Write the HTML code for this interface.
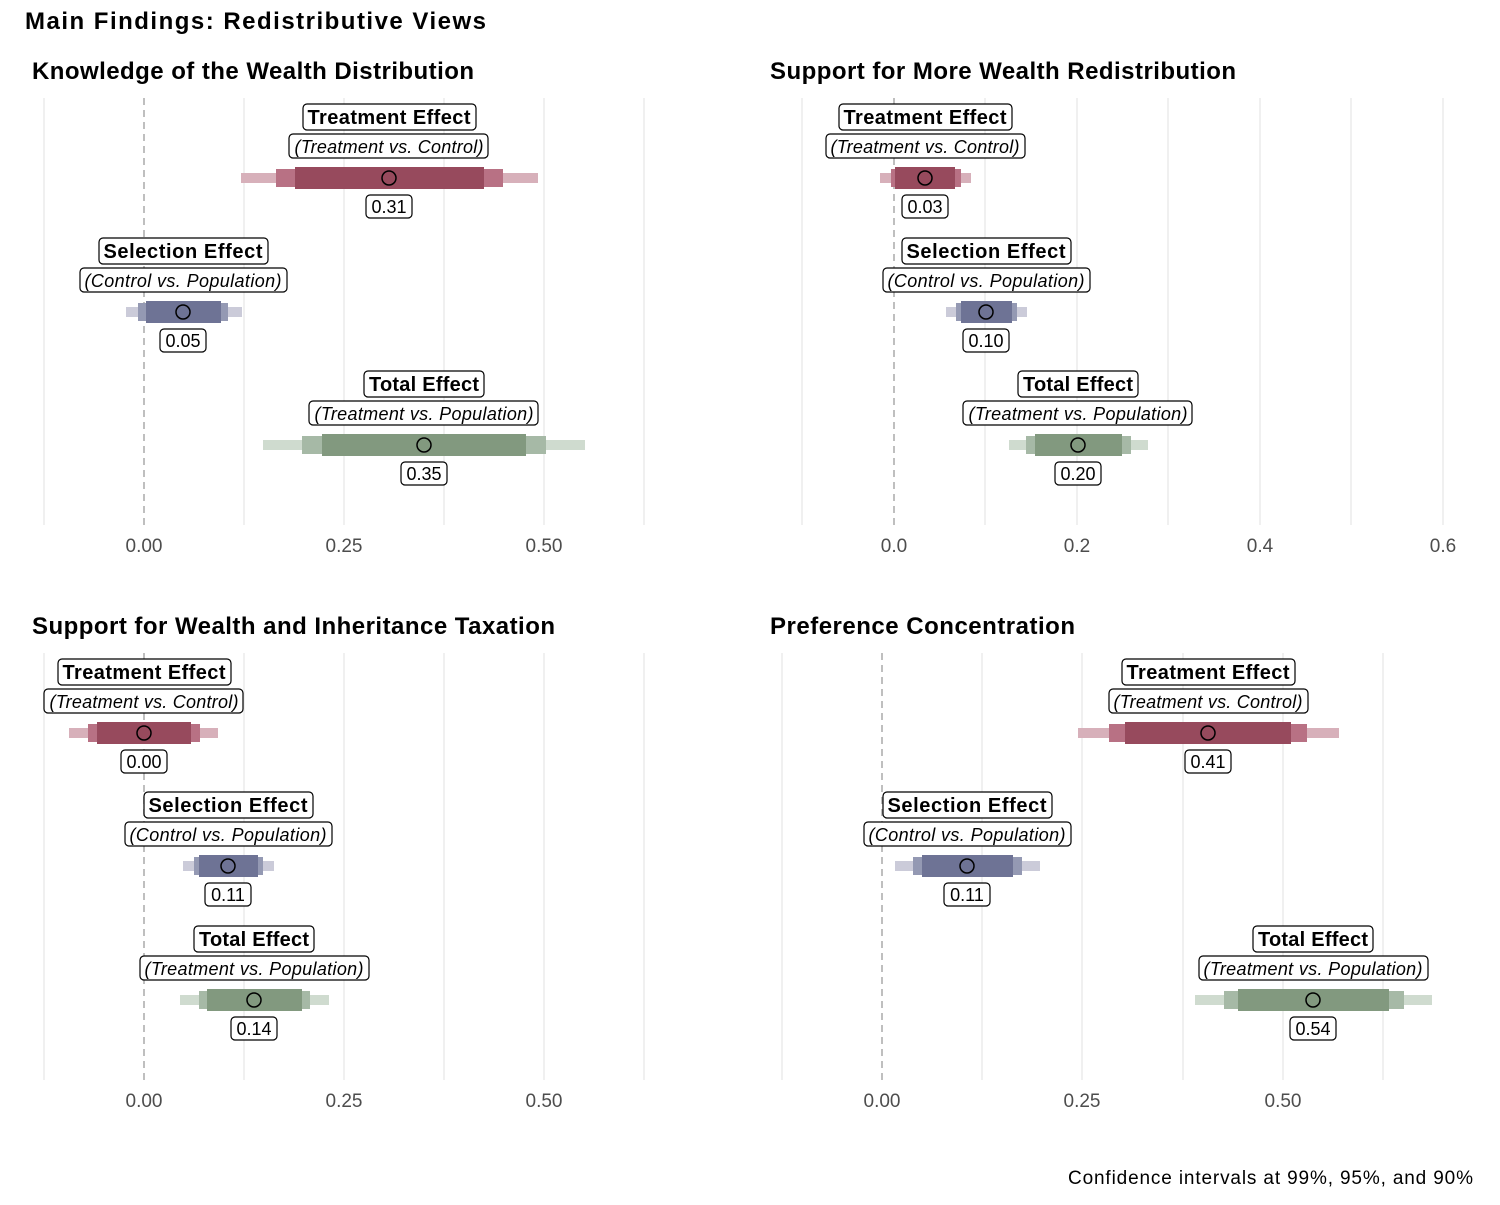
<!DOCTYPE html>
<html><head><meta charset="utf-8"><style>
body{margin:0;background:#fff}
svg text{font-family:"Liberation Sans","DejaVu Sans",sans-serif}
.t{font-weight:bold;font-size:20px;text-anchor:middle}
.i{font-style:italic;font-size:18px;text-anchor:middle}
.v{font-size:18px;text-anchor:middle}
.b{fill:#fff;stroke:#000;stroke-width:1.2}
.ax{font-size:19px;fill:#4d4d4d;text-anchor:middle}
.pt{font-weight:bold;font-size:24px}
.g{stroke:#ebebeb;stroke-width:1.5}
.z{stroke:#aaa;stroke-width:1.5;stroke-dasharray:7,5}
</style></head><body>
<svg width="1500" height="1200" xmlns="http://www.w3.org/2000/svg">
<text x="25" y="29" class="pt" textLength="461">Main Findings: Redistributive Views</text>
<text x="32" y="79" class="pt" textLength="442">Knowledge of the Wealth Distribution</text>
<text x="770" y="79" class="pt" textLength="466">Support for More Wealth Redistribution</text>
<text x="32" y="634" class="pt" textLength="523">Support for Wealth and Inheritance Taxation</text>
<text x="770" y="634" class="pt" textLength="305">Preference Concentration</text>
<text x="1473" y="1184" style="font-size:19px;text-anchor:end" textLength="405">Confidence intervals at 99%, 95%, and 90%</text>

<!-- grids -->
<g>
<line class="g" x1="44" y1="98" x2="44" y2="525"/><line class="g" x1="244" y1="98" x2="244" y2="525"/><line class="g" x1="344" y1="98" x2="344" y2="525"/><line class="g" x1="444" y1="98" x2="444" y2="525"/><line class="g" x1="544" y1="98" x2="544" y2="525"/><line class="g" x1="644" y1="98" x2="644" y2="525"/>
<line class="z" x1="144" y1="98" x2="144" y2="525"/>
<text class="ax" x="144" y="552">0.00</text><text class="ax" x="344" y="552">0.25</text><text class="ax" x="544" y="552">0.50</text>

<line class="g" x1="802" y1="98" x2="802" y2="525"/><line class="g" x1="985" y1="98" x2="985" y2="525"/><line class="g" x1="1077" y1="98" x2="1077" y2="525"/><line class="g" x1="1168" y1="98" x2="1168" y2="525"/><line class="g" x1="1260" y1="98" x2="1260" y2="525"/><line class="g" x1="1351" y1="98" x2="1351" y2="525"/><line class="g" x1="1443" y1="98" x2="1443" y2="525"/>
<line class="z" x1="894" y1="98" x2="894" y2="525"/>
<text class="ax" x="894" y="552">0.0</text><text class="ax" x="1077" y="552">0.2</text><text class="ax" x="1260" y="552">0.4</text><text class="ax" x="1443" y="552">0.6</text>

<line class="g" x1="44" y1="653" x2="44" y2="1080"/><line class="g" x1="244" y1="653" x2="244" y2="1080"/><line class="g" x1="344" y1="653" x2="344" y2="1080"/><line class="g" x1="444" y1="653" x2="444" y2="1080"/><line class="g" x1="544" y1="653" x2="544" y2="1080"/><line class="g" x1="644" y1="653" x2="644" y2="1080"/>
<line class="z" x1="144" y1="653" x2="144" y2="1080"/>
<text class="ax" x="144" y="1107">0.00</text><text class="ax" x="344" y="1107">0.25</text><text class="ax" x="544" y="1107">0.50</text>

<line class="g" x1="782" y1="653" x2="782" y2="1080"/><line class="g" x1="982" y1="653" x2="982" y2="1080"/><line class="g" x1="1082" y1="653" x2="1082" y2="1080"/><line class="g" x1="1183" y1="653" x2="1183" y2="1080"/><line class="g" x1="1283" y1="653" x2="1283" y2="1080"/><line class="g" x1="1383" y1="653" x2="1383" y2="1080"/>
<line class="z" x1="882" y1="653" x2="882" y2="1080"/>
<text class="ax" x="882" y="1107">0.00</text><text class="ax" x="1082" y="1107">0.25</text><text class="ax" x="1283" y="1107">0.50</text>
</g>

<!-- PANEL 1 -->
<g>
<rect x="241" y="173" width="297" height="10" fill="#d7b0ba"/><rect x="276" y="169" width="227" height="18" fill="#b87184"/><rect x="295" y="167" width="189" height="22" fill="#974a5d"/><circle cx="389" cy="178" r="7" fill="#974a5d" stroke="#000" stroke-width="1.5"/>
<rect class="b" x="303" y="104" width="173" height="26" rx="4"/><text class="t" x="389" y="124" textLength="163">Treatment Effect</text>
<rect class="b" x="289" y="134" width="199" height="24" rx="4"/><text class="i" x="389" y="153" textLength="189">(Treatment vs. Control)</text>
<rect class="b" x="366" y="195" width="46" height="23" rx="4"/><text class="v" x="389" y="213">0.31</text>

<rect x="126" y="307" width="116" height="10" fill="#cbcbd9"/><rect x="138" y="303" width="90" height="18" fill="#9499b3"/><rect x="146" y="301" width="75" height="22" fill="#6e7395"/><circle cx="183" cy="312" r="7" fill="#6e7395" stroke="#000" stroke-width="1.5"/>
<rect class="b" x="99" y="238" width="169" height="26" rx="4"/><text class="t" x="183" y="258" textLength="159">Selection Effect</text>
<rect class="b" x="80" y="268" width="207" height="24" rx="4"/><text class="i" x="183" y="287" textLength="197">(Control vs. Population)</text>
<rect class="b" x="160" y="329" width="46" height="23" rx="4"/><text class="v" x="183" y="347">0.05</text>

<rect x="263" y="440" width="322" height="10" fill="#cfdbcf"/><rect x="302" y="436" width="244" height="18" fill="#a6b9a6"/><rect x="322" y="434" width="204" height="22" fill="#82997f"/><circle cx="424" cy="445" r="7" fill="#82997f" stroke="#000" stroke-width="1.5"/>
<rect class="b" x="364" y="371" width="120" height="26" rx="4"/><text class="t" x="424" y="391" textLength="110">Total Effect</text>
<rect class="b" x="309" y="401" width="229" height="24" rx="4"/><text class="i" x="424" y="420" textLength="219">(Treatment vs. Population)</text>
<rect class="b" x="401" y="462" width="46" height="23" rx="4"/><text class="v" x="424" y="480">0.35</text>
</g>

<!-- PANEL 2 -->
<g>
<rect x="880" y="173" width="91" height="10" fill="#d7b0ba"/><rect x="891" y="169" width="70" height="18" fill="#b87184"/><rect x="895" y="167" width="60" height="22" fill="#974a5d"/><circle cx="925" cy="178" r="7" fill="#974a5d" stroke="#000" stroke-width="1.5"/>
<rect class="b" x="839" y="104" width="173" height="26" rx="4"/><text class="t" x="925" y="124" textLength="163">Treatment Effect</text>
<rect class="b" x="826" y="134" width="199" height="24" rx="4"/><text class="i" x="925" y="153" textLength="189">(Treatment vs. Control)</text>
<rect class="b" x="902" y="195" width="46" height="23" rx="4"/><text class="v" x="925" y="213">0.03</text>

<rect x="946" y="307" width="81" height="10" fill="#cbcbd9"/><rect x="956" y="303" width="61" height="18" fill="#9499b3"/><rect x="961" y="301" width="51" height="22" fill="#6e7395"/><circle cx="986" cy="312" r="7" fill="#6e7395" stroke="#000" stroke-width="1.5"/>
<rect class="b" x="902" y="238" width="169" height="26" rx="4"/><text class="t" x="986" y="258" textLength="159">Selection Effect</text>
<rect class="b" x="883" y="268" width="207" height="24" rx="4"/><text class="i" x="986" y="287" textLength="197">(Control vs. Population)</text>
<rect class="b" x="963" y="329" width="46" height="23" rx="4"/><text class="v" x="986" y="347">0.10</text>

<rect x="1009" y="440" width="139" height="10" fill="#cfdbcf"/><rect x="1026" y="436" width="105" height="18" fill="#a6b9a6"/><rect x="1035" y="434" width="87" height="22" fill="#82997f"/><circle cx="1078" cy="445" r="7" fill="#82997f" stroke="#000" stroke-width="1.5"/>
<rect class="b" x="1018" y="371" width="120" height="26" rx="4"/><text class="t" x="1078" y="391" textLength="110">Total Effect</text>
<rect class="b" x="963" y="401" width="229" height="24" rx="4"/><text class="i" x="1078" y="420" textLength="219">(Treatment vs. Population)</text>
<rect class="b" x="1055" y="462" width="46" height="23" rx="4"/><text class="v" x="1078" y="480">0.20</text>
</g>

<!-- PANEL 3 -->
<g>
<rect x="69" y="728" width="149" height="10" fill="#d7b0ba"/><rect x="88" y="724" width="112" height="18" fill="#b87184"/><rect x="97" y="722" width="94" height="22" fill="#974a5d"/><circle cx="144" cy="733" r="7" fill="#974a5d" stroke="#000" stroke-width="1.5"/>
<rect class="b" x="58" y="659" width="173" height="26" rx="4"/><text class="t" x="144" y="679" textLength="163">Treatment Effect</text>
<rect class="b" x="44" y="689" width="199" height="24" rx="4"/><text class="i" x="144" y="708" textLength="189">(Treatment vs. Control)</text>
<rect class="b" x="121" y="750" width="46" height="23" rx="4"/><text class="v" x="144" y="768">0.00</text>

<rect x="183" y="861" width="91" height="10" fill="#cbcbd9"/><rect x="194" y="857" width="69" height="18" fill="#9499b3"/><rect x="199" y="855" width="59" height="22" fill="#6e7395"/><circle cx="228" cy="866" r="7" fill="#6e7395" stroke="#000" stroke-width="1.5"/>
<rect class="b" x="144" y="792" width="169" height="26" rx="4"/><text class="t" x="228" y="812" textLength="159">Selection Effect</text>
<rect class="b" x="125" y="822" width="207" height="24" rx="4"/><text class="i" x="228" y="841" textLength="197">(Control vs. Population)</text>
<rect class="b" x="205" y="883" width="46" height="23" rx="4"/><text class="v" x="228" y="901">0.11</text>

<rect x="180" y="995" width="149" height="10" fill="#cfdbcf"/><rect x="199" y="991" width="111" height="18" fill="#a6b9a6"/><rect x="207" y="989" width="95" height="22" fill="#82997f"/><circle cx="254" cy="1000" r="7" fill="#82997f" stroke="#000" stroke-width="1.5"/>
<rect class="b" x="194" y="926" width="120" height="26" rx="4"/><text class="t" x="254" y="946" textLength="110">Total Effect</text>
<rect class="b" x="140" y="956" width="229" height="24" rx="4"/><text class="i" x="254" y="975" textLength="219">(Treatment vs. Population)</text>
<rect class="b" x="231" y="1017" width="46" height="23" rx="4"/><text class="v" x="254" y="1035">0.14</text>
</g>

<!-- PANEL 4 -->
<g>
<rect x="1078" y="728" width="261" height="10" fill="#d7b0ba"/><rect x="1109" y="724" width="198" height="18" fill="#b87184"/><rect x="1125" y="722" width="166" height="22" fill="#974a5d"/><circle cx="1208" cy="733" r="7" fill="#974a5d" stroke="#000" stroke-width="1.5"/>
<rect class="b" x="1122" y="659" width="173" height="26" rx="4"/><text class="t" x="1208" y="679" textLength="163">Treatment Effect</text>
<rect class="b" x="1109" y="689" width="199" height="24" rx="4"/><text class="i" x="1208" y="708" textLength="189">(Treatment vs. Control)</text>
<rect class="b" x="1185" y="750" width="46" height="23" rx="4"/><text class="v" x="1208" y="768">0.41</text>

<rect x="895" y="861" width="145" height="10" fill="#cbcbd9"/><rect x="913" y="857" width="109" height="18" fill="#9499b3"/><rect x="922" y="855" width="91" height="22" fill="#6e7395"/><circle cx="967" cy="866" r="7" fill="#6e7395" stroke="#000" stroke-width="1.5"/>
<rect class="b" x="883" y="792" width="169" height="26" rx="4"/><text class="t" x="967" y="812" textLength="159">Selection Effect</text>
<rect class="b" x="864" y="822" width="207" height="24" rx="4"/><text class="i" x="967" y="841" textLength="197">(Control vs. Population)</text>
<rect class="b" x="944" y="883" width="46" height="23" rx="4"/><text class="v" x="967" y="901">0.11</text>

<rect x="1195" y="995" width="237" height="10" fill="#cfdbcf"/><rect x="1224" y="991" width="180" height="18" fill="#a6b9a6"/><rect x="1238" y="989" width="151" height="22" fill="#82997f"/><circle cx="1313" cy="1000" r="7" fill="#82997f" stroke="#000" stroke-width="1.5"/>
<rect class="b" x="1253" y="926" width="120" height="26" rx="4"/><text class="t" x="1313" y="946" textLength="110">Total Effect</text>
<rect class="b" x="1199" y="956" width="229" height="24" rx="4"/><text class="i" x="1313" y="975" textLength="219">(Treatment vs. Population)</text>
<rect class="b" x="1290" y="1017" width="46" height="23" rx="4"/><text class="v" x="1313" y="1035">0.54</text>
</g>
</svg>
</body></html>
